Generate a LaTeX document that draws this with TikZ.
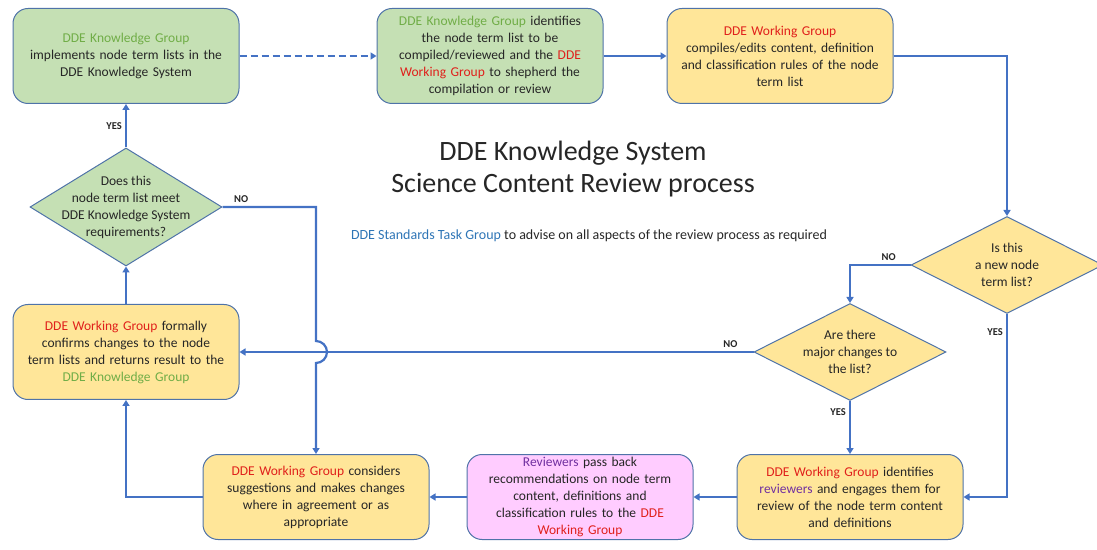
\documentclass[tikz,border=0pt]{standalone}
\usepackage{fontspec}
\setmainfont{Carlito}
\usepackage{xcolor}
\usepackage{tikz}
\usetikzlibrary{arrows.meta,shapes.geometric}
\definecolor{linkblue}{HTML}{4472C4}
\definecolor{edgeblue}{HTML}{4F73A8}
\definecolor{kgfill}{HTML}{C5E0B4}
\definecolor{wgfill}{HTML}{FFE699}
\definecolor{revfill}{HTML}{FFCCFF}
\definecolor{kgtext}{HTML}{70AD47}
\definecolor{wgtext}{HTML}{E0201B}
\definecolor{revtext}{HTML}{7030A0}
\definecolor{stgtext}{HTML}{2E75B6}
\definecolor{bodytext}{HTML}{262626}
\newcommand{\KG}{\textcolor{kgtext}{DDE Knowledge Group}}
\newcommand{\WG}{\textcolor{wgtext}{DDE Working Group}}
\tikzset{
  flow/.style={-{Triangle[length=6pt,width=7pt]},line width=2.2pt,draw=linkblue},
  handoff/.style={flow,dashed,dash pattern=on 7pt off 4pt},
  stepbox/.style={draw=edgeblue,line width=1pt,rounded corners=15pt,align=center,
    minimum width=226pt,minimum height=95pt,text width=218pt,inner sep=0pt,
    text=bodytext,font=\fontsize{13.5}{17}\selectfont},
  lowbox/.style={stepbox,minimum height=85pt},
  decision/.style={diamond,draw=edgeblue,line width=1pt,inner sep=0pt,
    minimum width=192pt,minimum height=97pt},
  qtext/.style={align=center,text=bodytext,font=\fontsize{13.5}{17}\selectfont},
  ans/.style={font=\fontsize{10.5}{12}\selectfont\bfseries,text=bodytext,inner sep=3pt}
}

\begin{document}
\begin{tikzpicture}[x=1pt,y=1pt]
  \useasboundingbox (0,0) rectangle (1097,549);

  % top row
  \node[stepbox,fill=kgfill] (impl) at (126,493) {\KG\\implements node term lists in the\\DDE Knowledge System};
  \node[stepbox,fill=kgfill] (pick) at (490,493) {\KG{} identifies\\the node term list to be\\compiled/reviewed and the \textcolor{wgtext}{DDE}\\\textcolor{wgtext}{Working Group} to shepherd the\\compilation or review};
  \node[stepbox,fill=wgfill] (compile) at (780,493) {\WG\\compiles/edits content, definition\\and classification rules of the node\\term list};

  % questions
  \node[decision,fill=kgfill,minimum height=118pt,
    label={[qtext]center:Does this\\node term list meet\\DDE Knowledge System\\requirements?}] (meet) at (126,342) {};
  \node[decision,fill=wgfill,
    label={[qtext]center:Is this\\a new node\\term list?}] (isnew) at (1007,284) {};
  \node[decision,fill=wgfill,
    label={[qtext]center:Are there\\major changes to\\the list?}] (major) at (850,197) {};

  \node[stepbox,fill=wgfill] (confirm) at (126,197) {\WG{} formally\\confirms changes to the node\\term lists and returns result to the\\\KG};

  % bottom row
  \node[lowbox,fill=wgfill] (engage) at (850,52) {\WG{} identifies\\\textcolor{revtext}{reviewers} and engages them for\\review of the node term content\\and definitions};
  \node[lowbox,fill=revfill] (advise) at (580,52) {\textcolor{revtext}{Reviewers} pass back\\recommendations on node term\\content, definitions and\\classification rules to the \textcolor{wgtext}{DDE}\\\textcolor{wgtext}{Working Group}};
  \node[lowbox,fill=wgfill] (amend) at (316,52) {\WG{} considers\\suggestions and makes changes\\where in agreement or as\\appropriate};

  % heading
  \node[align=center,text=bodytext,font=\fontsize{28}{32}\selectfont] (title) at (573,380) {DDE Knowledge System\\Science Content Review process};
  \node[text=bodytext,font=\fontsize{14}{16}\selectfont] (note) at (589,313) {\textcolor{stgtext}{DDE Standards Task Group} to advise on all aspects of the review process as required};

  \draw[handoff] (impl.east) -- (pick.west);
  \draw[flow] (pick.east) -- (compile.west);
  \draw[flow] (compile.east) -| (isnew.north);
  \draw[flow] (isnew.west) -| node[ans,above,pos=0.18] {NO} (major.north);
  \draw[flow] (isnew.south) |- node[ans,left,pos=0.05] {YES} (engage.east);
  \draw[flow] (major.west) -- node[ans,above,pos=0.045] {NO} (confirm.east);
  \draw[flow] (major.south) -- node[ans,left,pos=0.2] {YES} (engage.north);
  \draw[flow] (engage.west) -- (advise.east);
  \draw[flow] (advise.west) -- (amend.east);
  \draw[flow] (amend.west) -| (confirm.south);
  \draw[flow] (confirm.north) -- (meet.south);
  \draw[flow] (meet.north) -- node[ans,left] {YES} (impl.south);
  % hop over the NO line from the change question
  \draw[flow] (meet.east) -| node[ans,above,pos=0.1] {NO} ([yshift=11pt]amend.north |- confirm.east)
    arc[start angle=90,end angle=-90,radius=11pt] -- (amend.north);
\end{tikzpicture}
\end{document}
